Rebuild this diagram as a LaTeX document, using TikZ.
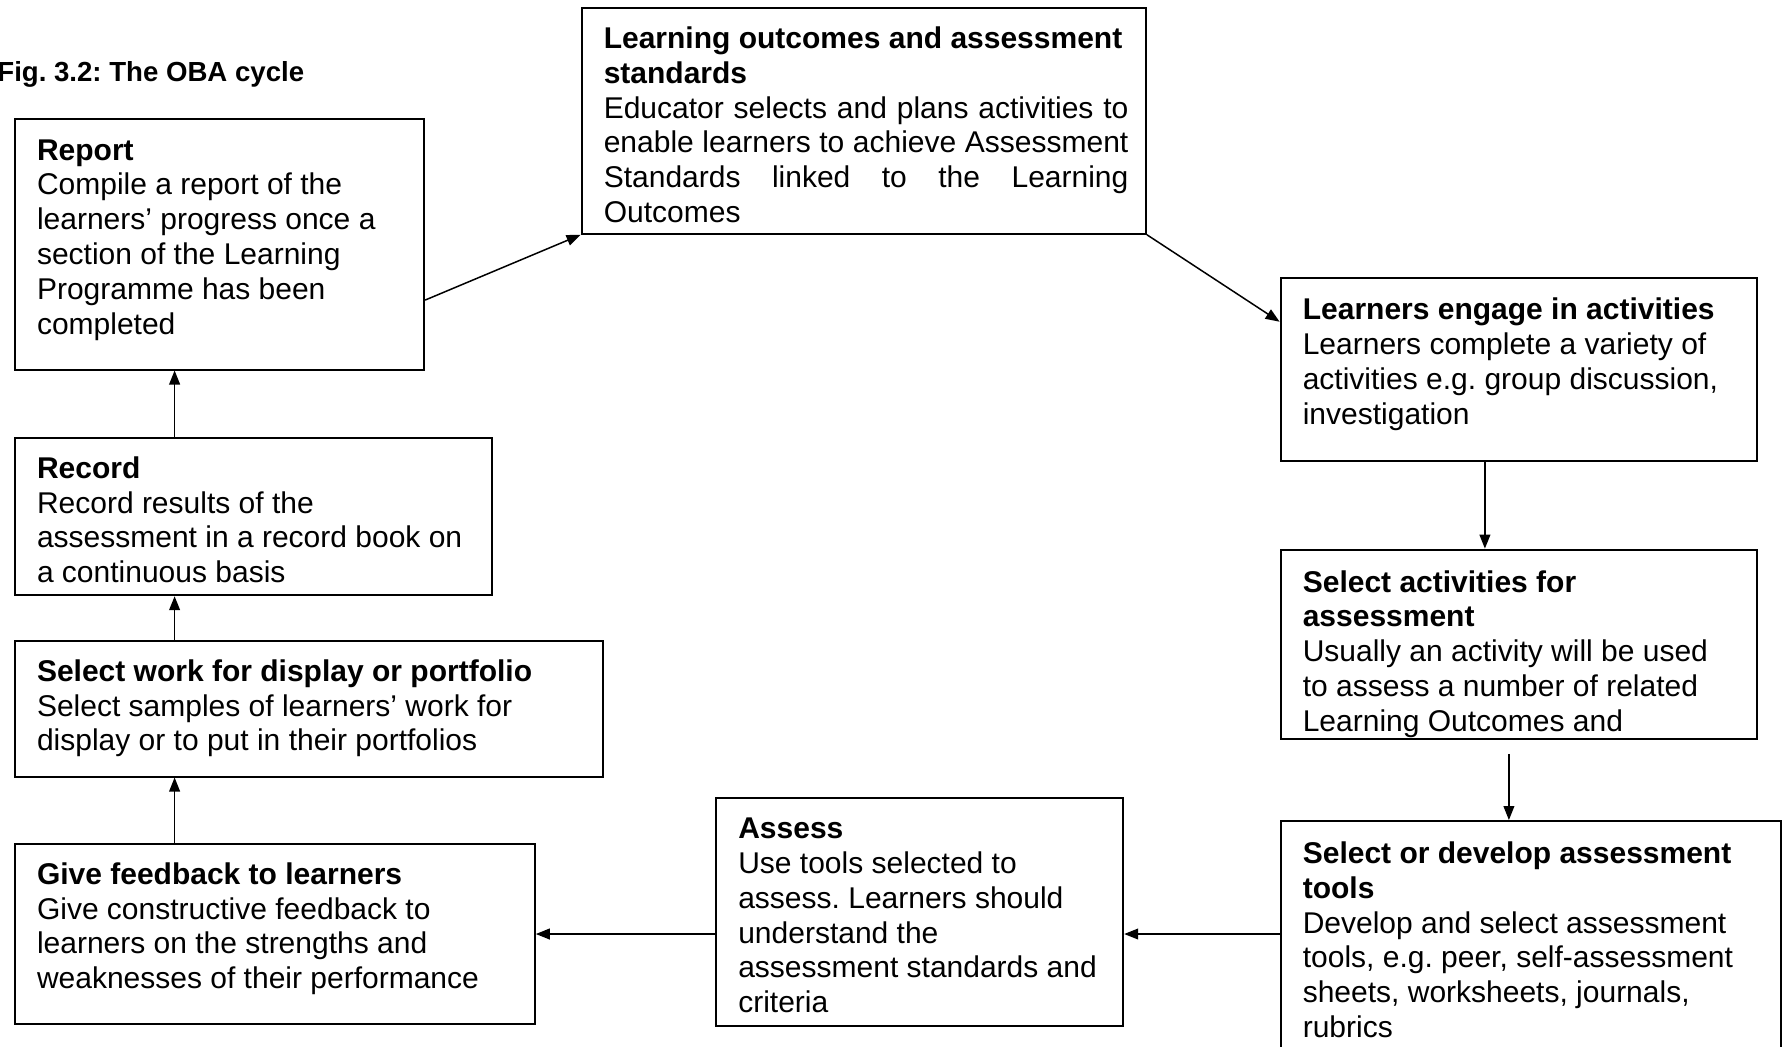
\documentclass[tikz,border=0pt]{standalone}
\usepackage{fontspec}
\setmainfont{Liberation Sans}
\usetikzlibrary{arrows.meta,fit}
\setlength{\parindent}{0pt}
\frenchspacing
\newcommand{\hdr}[1]{\rule{0pt}{15pt}\textbf{#1}}
\begin{document}
\begin{tikzpicture}[x=0.5pt,y=-0.5pt,
  box/.style={draw, line width=1pt, inner sep=0pt},
  txt/.style={inner sep=0pt, anchor=north west, align=left, font=\fontsize{15}{17.4}\selectfont\frenchspacing},
  arr/.style={line width=0.75pt, -{Triangle[length=7pt,width=5.4pt]}},
  ]
\useasboundingbox (0,0) rectangle (1788,1046);
\clip (0,0) rectangle (1788,1046);

\node[inner sep=0pt, anchor=base west, font=\fontsize{13.8}{16}\selectfont\bfseries] (title) at (-3,81) {Fig. 3.2: The OBA cycle};

\node[box, fit={(14.8,118.6)(424.2,369.5)}] (report) {};
\node[box, fit={(581.6,8)(1146,233.8)}] (lo) {};
\node[box, fit={(1280.6,278.2)(1757.2,460.7)}] (engage) {};
\node[box, fit={(1280.6,549.6)(1757.2,738.9)}] (selact) {};
\node[box, fit={(1280.6,821)(1781,1080)}] (seldev) {};
\node[box, fit={(716.1,798.2)(1123.2,1026.3)}] (assess) {};
\node[box, fit={(14.8,843.8)(534.8,1024)}] (feedback) {};
\node[box, fit={(14.8,640.9)(603.2,776.5)}] (selwork) {};
\node[box, fit={(14.8,437.9)(491.5,595.2)}] (record) {};

\node[txt] (reportT) at ([xshift=11.4pt,yshift=-6pt]report.north west)
  {\hdr{Report}\\Compile a report of the\\learners’ progress once a\\section of the Learning\\Programme has been\\completed};
\node[txt, text width=262.3pt, align=justify] (loT) at ([xshift=11.4pt,yshift=-5.5pt]lo.north west)
  {\hdr{Learning outcomes and assessment}\\\textbf{standards}\\Educator selects and plans activities to\linebreak enable learners to achieve Assessment\linebreak Standards linked to the Learning\linebreak Outcomes};
\node[txt] (engageT) at ([xshift=11.4pt,yshift=-6pt]engage.north west)
  {\hdr{Learners engage in activities}\\Learners complete a variety of\\activities e.g. group discussion,\\investigation};
\node[txt] (selactT) at ([xshift=11.4pt,yshift=-6.5pt]selact.north west)
  {\hdr{Select activities for}\\\textbf{assessment}\\Usually an activity will be used\\to assess a number of related\\Learning Outcomes and};
\node[txt] (seldevT) at ([xshift=11.4pt,yshift=-6.5pt]seldev.north west)
  {\hdr{Select or develop assessment}\\\textbf{tools}\\Develop and select assessment\\tools, e.g. peer, self-assessment\\sheets, worksheets, journals,\\rubrics};
\node[txt] (assessT) at ([xshift=11.4pt,yshift=-5.5pt]assess.north west)
  {\hdr{Assess}\\Use tools selected to\\assess. Learners should\\understand the\\assessment standards and\\criteria};
\node[txt] (feedbackT) at ([xshift=11.4pt,yshift=-5.5pt]feedback.north west)
  {\hdr{Give feedback to learners}\\Give constructive feedback to\\learners on the strengths and\\weaknesses of their performance};
\node[txt] (selworkT) at ([xshift=11.4pt,yshift=-5.5pt]selwork.north west)
  {\hdr{Select work for display or portfolio}\\Select samples of learners’ work for\\display or to put in their portfolios};
\node[txt] (recordT) at ([xshift=11.4pt,yshift=-5.5pt]record.north west)
  {\hdr{Record}\\Record results of the\\assessment in a record book on\\a continuous basis};

% connectors
\draw[arr] ([yshift=-28pt]report.east) -- (lo.south west);
\draw[arr] (lo.south east) -- ([yshift=-22.25pt]engage.north west);
\draw[arr] ([xshift=-17pt]engage.south) -- ([xshift=-17pt]selact.north);
\coordinate (c0) at ([xshift=-5pt,yshift=-7pt]selact.south);
\draw[arr] (c0) -- (c0 |- seldev.north);
\coordinate (c1) at ([yshift=-57pt]seldev.north west);
\draw[arr] (c1) -- (c1 -| assess.east);
\draw[arr] (c1 -| assess.west) -- (c1 -| feedback.east);
\coordinate (c2) at ([xshift=80.4pt]feedback.north west);
\draw[arr] (c2) -- (c2 |- selwork.south);
\draw[arr] (c2 |- selwork.north) -- (c2 |- record.south);
\draw[arr] (c2 |- record.north) -- (c2 |- report.south);
\end{tikzpicture}
\end{document}
